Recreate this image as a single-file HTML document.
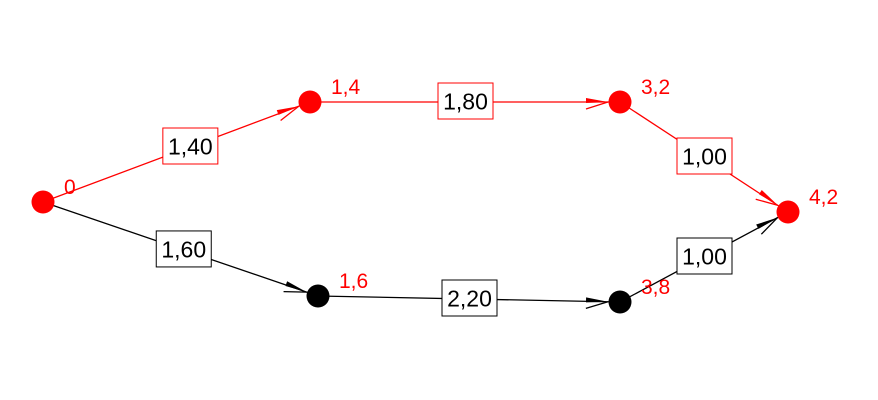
<!DOCTYPE html>
<html><head><meta charset="utf-8"><style>
body{margin:0;background:#fff}
svg{display:block;font-family:"Liberation Sans",sans-serif}
</style></head><body>
<svg id="g" width="878" height="400" viewBox="0 0 878 400"></svg>
<script>
const nodeNames=["A","B","C","D","E","F"];
const nodeX=[43,310,620,788,318,620];
const nodeY=[202,102,102,212,296,302];
const nodeLabels=["0","1,4","3,2","4,2","1,6","3,8"];
const nodeColors=["red","red","red","red","black","black"];
const edgeFrom=[0,1,2,0,4,5];
const edgeTo=[1,2,3,4,5,3];
const edgeLabels=["1,40","1,80","1,00","1,60","2,20","1,00"];
const edgeColors=["red","red","red","black","black","black"];
const edgeLabelPos=[0.55,0.5,0.5,0.51,0.5,0.5];
const NS="http://www.w3.org/2000/svg";
const svg=document.getElementById('g');
function mk(t,a){const e=document.createElementNS(NS,t);for(const k in a)e.setAttribute(k,a[k]);return e;}
for(let i=0;i<edgeFrom.length;i++){
  const x1=nodeX[edgeFrom[i]],y1=nodeY[edgeFrom[i]],x2=nodeX[edgeTo[i]],y2=nodeY[edgeTo[i]];
  const c=edgeColors[i];
  const g=mk('g',{});
  
  
  g.appendChild(mk('line',{x1,y1,x2,y2,stroke:c,'stroke-width':1.3}));
  const dx=x2-x1,dy=y2-y1,L=Math.hypot(dx,dy),ux=dx/L,uy=dy/L,px=-uy,py=ux;
  const tx=x2-ux*12,ty=y2-uy*12;
  const bx=tx-ux*22,by=ty-uy*22;
  g.appendChild(mk('polygon',{points:`${tx},${ty} ${bx-px*4},${by-py*4} ${bx+px*1},${by+py*1}`,fill:c}));
  g.appendChild(mk('line',{x1:tx,y1:ty,x2:bx+px*7,y2:by+py*7,stroke:c,'stroke-width':1.3}));
  svg.appendChild(g);
  const f=edgeLabelPos[i];
  const mx=x1+dx*f,my=y1+dy*f-1;
  const box=mk('rect',{x:mx-27,y:my-18,width:55,height:36,fill:'#fff',stroke:c,'stroke-width':1});
  
  
  svg.appendChild(box);
  const t=mk('text',{x:mx+0.5,y:my+8.5,'text-anchor':'middle','font-size':23,fill:'#000'});
  t.textContent=edgeLabels[i];
  
  
  svg.appendChild(t);
}
for(let i=0;i<nodeX.length;i++){
  const c=mk('circle',{cx:nodeX[i],cy:nodeY[i],r:11.5,fill:nodeColors[i]});
  
  
  svg.appendChild(c);
  const t=mk('text',{x:nodeX[i]+21,y:nodeY[i]-8,'font-size':21,fill:'red'});
  t.textContent=nodeLabels[i];
  
  
  svg.appendChild(t);
}
</script>
</body></html>
